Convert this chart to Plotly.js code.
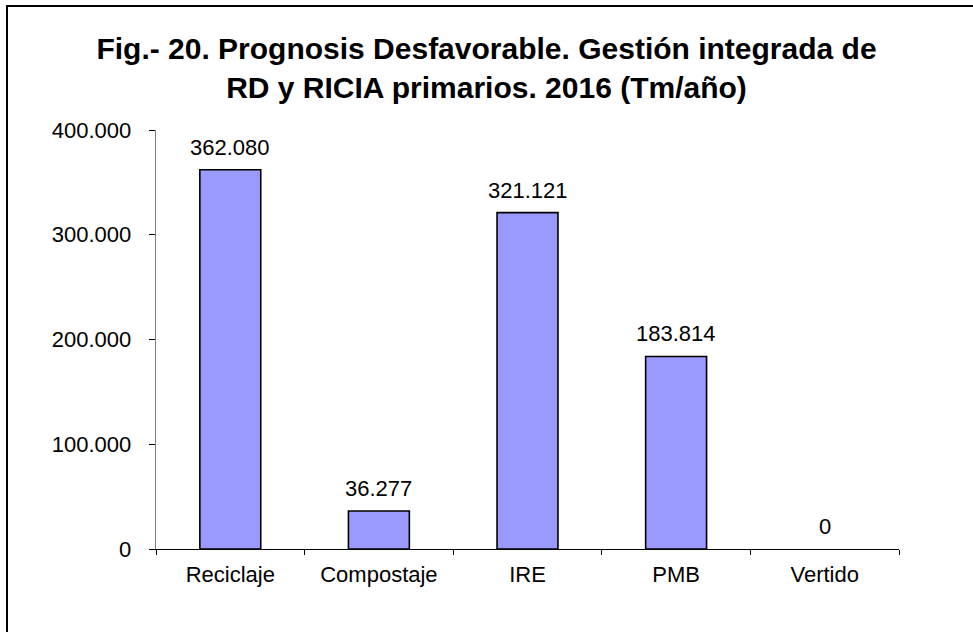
<!DOCTYPE html>
<html>
<head>
<meta charset="utf-8">
<script src="https://cdn.plot.ly/plotly-3.0.1.min.js"></script>
<style>
	body { margin:0; background:#fff; }
	#frame { position:absolute; left:6px; top:5px; width:980px; height:640px;
		border-left:2px solid #000; border-top:2px solid #000; }
	#chart1 { position:absolute; left:0; top:0; width:973px; height:632px; }
</style>
</head>
<body>
<div id="chart1"></div>
<div id="frame"></div>
<script>

var categorias = ['Reciclaje', 'Compostaje', 'IRE', 'PMB', 'Vertido'];
var toneladas = [362080, 36277, 321121, 183814, 0];
var ticksY = [0, 100000, 200000, 300000, 400000];

// no outline for the empty bar (Vertido)
var bordes = toneladas.map(function (v) { return v > 0 ? 1.6 : 0; });

var fmt = function (v) {
	return String(v).replace(/\B(?=(\d{3})+(?!\d))/g, '.');
};

var trace = {
	x: categorias,
	y: toneladas,
	type: 'bar',
	marker: {color: '#9999FF', line: {color: '#000', width: bordes}},
	hoverinfo: 'x+y'
};

// value labels above each bar
var etiquetas = [];
for (var i = 0; i < categorias.length; i++) {
	etiquetas.push({
		x: categorias[i],
		y: toneladas[i],
		xref: 'x', yref: 'y',
		text: fmt(toneladas[i]),
		showarrow: false,
		yanchor: 'bottom',
		yshift: 8,
		font: {size: 22}
	});
}

var layout = {
	width: 973,
	height: 632,
	separators: ',.',
	paper_bgcolor: 'rgba(0,0,0,0)',
	plot_bgcolor: 'rgba(0,0,0,0)',
	font: {family: 'Liberation Sans, Arial, sans-serif', size: 22, color: '#000'},
	title: {
		text: '<b>Fig.- 20. Prognosis Desfavorable. Gestión integrada de<br>RD y RICIA primarios. 2016 (Tm/año)</b>',
		font: {size: 30, color: '#000'},
		x: 0.5, xanchor: 'center',
		y: 0.907, yanchor: 'middle'
	},
	margin: {l: 156, r: 74, t: 130, b: 83},
	bargap: 0.59,
	showlegend: false,
	annotations: etiquetas,
	xaxis: {
		type: 'category',
		showline: true,
		linecolor: '#000',
		linewidth: 1.3,
		ticks: 'outside',
		tickson: 'boundaries',
		ticklen: 5,
		tickcolor: '#000',
		ticklabelstandoff: 5,
		showgrid: false,
		zeroline: false
	},
	yaxis: {
		range: [0, 400000],
		tickvals: ticksY,
		tickformat: ',d',
		showline: true,
		linecolor: '#808080',
		linewidth: 1.3,
		ticks: 'outside',
		ticklen: 6,
		tickcolor: '#000',
		ticklabelstandoff: 13,
		showgrid: false,
		zeroline: false
	}
};

Plotly.newPlot('chart1', [trace], layout, {displayModeBar: false, staticPlot: true});

</script>
</body>
</html>
